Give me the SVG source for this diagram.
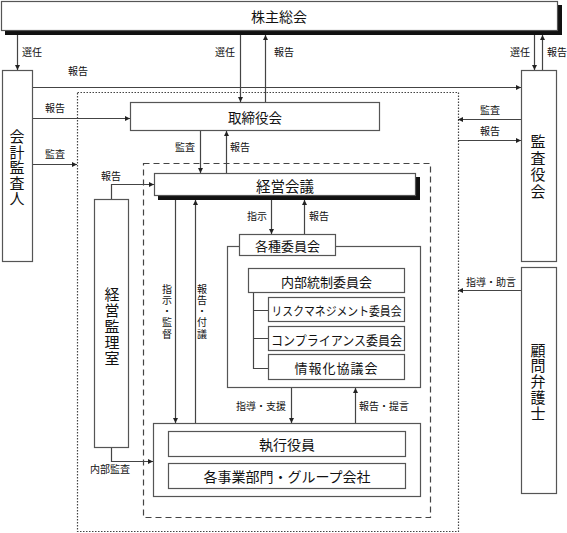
<svg xmlns="http://www.w3.org/2000/svg" width="567" height="533" viewBox="0 0 567 533">
<style>
text{font-family:"Noto Sans CJK JP","Noto Sans",sans-serif;fill:#111;}
.box{fill:#fff;stroke:#555;stroke-width:1.2;}
.lbl{font-size:10px;}
.c{text-anchor:middle;dominant-baseline:central;}
.v{writing-mode:vertical-rl;text-anchor:middle;glyph-orientation-vertical:0;}
.ln{fill:none;stroke:#444;stroke-width:1.2;}
.arr{marker-end:url(#ah);}
</style>
<defs>
<marker id="ah" viewBox="0 0 6 6" refX="6" refY="3" markerWidth="5" markerHeight="5" orient="auto" markerUnits="userSpaceOnUse"><path d="M0,0 L6,3 L0,6 z" fill="#222"/></marker>
</defs>
<rect width="567" height="533" fill="#fff"/>

<g id="outer-dotted"><rect x="77.5" y="92.5" width="381" height="439" fill="none" stroke="#444" stroke-width="1.2" stroke-dasharray="1.5,1.5"/></g>
<g id="inner-dashed"><rect x="143.5" y="163.5" width="287" height="354" fill="none" stroke="#444" stroke-width="1.2" stroke-dasharray="6,4"/></g>

<g id="shareholders">
<rect x="5" y="5" width="557" height="30" fill="#111"/>
<rect class="box" x="1.5" y="1.5" width="556" height="29"/>
<text class="c" x="279" y="16" font-size="14">株主総会</text>
</g>

<g id="accounting-auditor">
<rect class="box" x="2.5" y="70.5" width="30" height="191"/>
<text class="v" x="17" y="168" font-size="15" letter-spacing="0.5">会計監査人</text>
</g>

<g id="audit-board">
<rect class="box" x="521.5" y="70.5" width="35" height="191"/>
<text class="v" x="538" y="167" font-size="15" letter-spacing="1.5">監査役会</text>
</g>

<g id="legal-advisor">
<rect class="box" x="521.5" y="267.5" width="35" height="226"/>
<text class="v" x="538" y="382" font-size="15" letter-spacing="0.8">顧問弁護士</text>
</g>

<g id="board">
<rect class="box" x="130.5" y="102.5" width="249" height="28"/>
<text class="c" x="255" y="117" font-size="13.5">取締役会</text>
</g>

<g id="management-meeting">
<rect x="158" y="177" width="262" height="23" fill="#111"/>
<rect class="box" x="154.5" y="173.5" width="261" height="22"/>
<text class="c" x="285" y="185" font-size="14.5">経営会議</text>
</g>

<g id="management-audit-office">
<rect class="box" x="94.5" y="199.5" width="34" height="248"/>
<text class="v" x="112" y="327" font-size="15" letter-spacing="1.2">経営監理室</text>
</g>

<g id="committees">
<rect class="box" x="227.5" y="246.5" width="193" height="141"/>
<rect class="box" x="239.5" y="234.5" width="96" height="21"/>
<text class="c" x="287.5" y="245.5" font-size="13">各種委員会</text>
<rect class="box" x="248.5" y="268.5" width="156" height="24"/>
<text class="c" x="326.5" y="281" font-size="13">内部統制委員会</text>
<path class="ln" d="M253.5,293 V368.5 H268 M253.5,310.5 H268 M253.5,338.5 H268"/>
<rect class="box" x="268.5" y="297.5" width="136" height="24"/>
<text class="c" x="336.5" y="310" font-size="12" textLength="130" lengthAdjust="spacingAndGlyphs">リスクマネジメント委員会</text>
<rect class="box" x="268.5" y="326.5" width="136" height="24"/>
<text class="c" x="336.5" y="339" font-size="13" textLength="131" lengthAdjust="spacingAndGlyphs">コンプライアンス委員会</text>
<rect class="box" x="268.5" y="354.5" width="136" height="25"/>
<text class="c" x="336.5" y="367.5" font-size="13" letter-spacing="1">情報化協議会</text>
</g>

<g id="execution">
<rect class="box" x="153.5" y="423.5" width="267" height="73"/>
<rect class="box" x="168.5" y="431.5" width="237" height="25"/>
<text class="c" x="287" y="444" font-size="14">執行役員</text>
<rect class="box" x="168.5" y="463.5" width="237" height="25"/>
<text class="c" x="287" y="476" font-size="14">各事業部門・グループ会社</text>
</g>

<g id="connectors">
<path class="ln arr" d="M17.5,35 V70"/>
<path class="ln arr" d="M240.5,35 V102"/>
<path class="ln arr" d="M265.5,102 V35"/>
<path class="ln arr" d="M534.5,35 V70"/>
<path class="ln arr" d="M542.5,70 V35"/>
<path class="ln arr" d="M33,87.5 H521"/>
<path class="ln arr" d="M33,118.5 H130"/>
<path class="ln arr" d="M33,164.5 H77"/>
<path class="ln arr" d="M200.5,131 V173"/>
<path class="ln arr" d="M226.5,173 V131"/>
<path class="ln arr" d="M111.5,199 V184.5 H154"/>
<path class="ln arr" d="M111.5,448 V461.5 H153"/>
<path class="ln arr" d="M175.5,200 V423"/>
<path class="ln arr" d="M195.5,423 V200"/>
<path class="ln arr" d="M271.5,200 V234"/>
<path class="ln arr" d="M304.5,234 V200"/>
<path class="ln arr" d="M291.5,388 V423"/>
<path class="ln arr" d="M355.5,423 V388"/>
<path class="ln arr" d="M521,119.5 H458"/>
<path class="ln arr" d="M458,140.5 H521"/>
<path class="ln arr" d="M521,290.5 H458"/>
</g>

<g id="labels" class="lbl">
<text x="22" y="56">選任</text>
<text x="215" y="56">選任</text>
<text x="274" y="56">報告</text>
<text x="510" y="56">選任</text>
<text x="547" y="56">報告</text>
<text x="68" y="75">報告</text>
<text x="45" y="112">報告</text>
<text x="45" y="158">監査</text>
<text x="175" y="151">監査</text>
<text x="230" y="151">報告</text>
<text x="101" y="180">報告</text>
<text x="247" y="220">指示</text>
<text x="309" y="220">報告</text>
<text x="480" y="114">監査</text>
<text x="480" y="135">報告</text>
<text x="466" y="286">指導・助言</text>
<text x="236" y="410">指導・支援</text>
<text x="359" y="410">報告・提言</text>
<text x="90" y="473">内部監査</text>
<text class="v" x="167" y="312" letter-spacing="1.2">指示・監督</text>
<text class="v" x="202" y="312" letter-spacing="1.2">報告・付議</text>
</g>
</svg>
